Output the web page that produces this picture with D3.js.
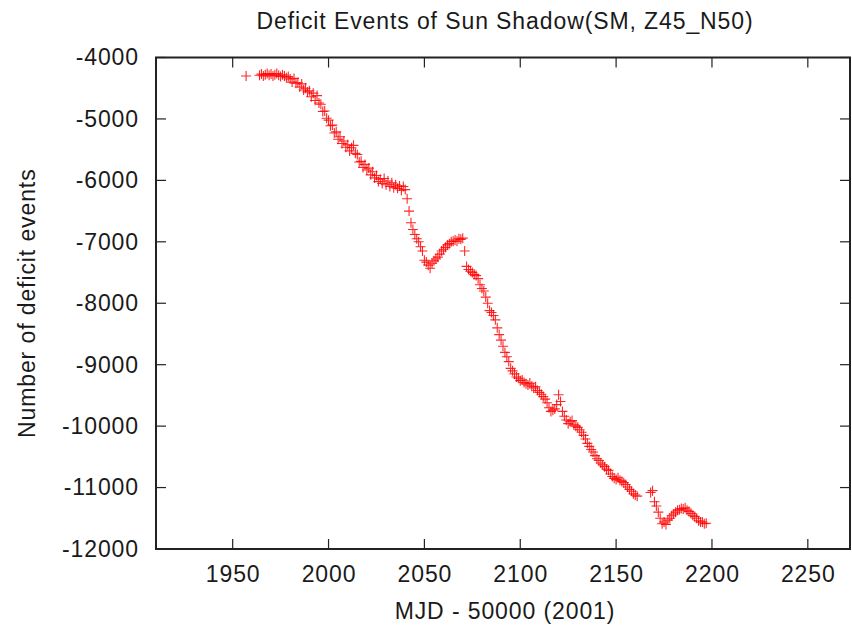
<!DOCTYPE html>
<html>
<head>
<meta charset="utf-8">
<script src="https://cdn.jsdelivr.net/npm/d3@7"></script>
<style>
  html, body { margin: 0; padding: 0; background: #fff; }
  svg { display: block; }
  text { font-family: "Liberation Sans", Arial, sans-serif; fill: #1a1a1a; }
</style>
</head>
<body>
<svg id="chart" width="852" height="628"></svg>
<script>
const title = "Deficit Events of Sun Shadow(SM, Z45_N50)";
const xLabel = "MJD - 50000 (2001)";
const yLabel = "Number of deficit events";
const xTicks = [1950, 2000, 2050, 2100, 2150, 2200, 2250];
const yTicks = [-4000, -5000, -6000, -7000, -8000, -9000, -10000, -11000, -12000];
const xDomain = [1910, 2272];
const yDomain = [-12000, -4000];

const days = [
  1957,
  1964, 1965, 1966, 1967, 1968, 1969, 1970, 1971, 1972, 1973, 1974, 1975, 1976, 1977, 1978, 1979,
  1980, 1981, 1982, 1983, 1984, 1985, 1986, 1987, 1988, 1989, 1990, 1991, 1992, 1993, 1994, 1995,
  1996, 1997, 1998, 1999, 2000, 2001, 2002, 2003, 2004, 2005, 2006, 2007, 2008, 2009, 2010, 2011,
  2012, 2013, 2014, 2015, 2016, 2017, 2018, 2019, 2020, 2021, 2022, 2023, 2024, 2025, 2026, 2027,
  2028, 2029, 2030, 2031, 2032, 2033, 2034, 2035, 2036, 2037, 2038, 2039, 2040, 2041, 2042, 2043,
  2044, 2045, 2046, 2047, 2048, 2049, 2050, 2051, 2052, 2053, 2054, 2055, 2056, 2057, 2058, 2059,
  2060, 2061, 2062, 2063, 2064, 2065, 2066, 2067, 2068, 2069, 2070, 2071, 2072, 2073, 2074, 2075,
  2076, 2077, 2078, 2079, 2080, 2081, 2082, 2083, 2084, 2085, 2086, 2087, 2088, 2089, 2090, 2091,
  2092, 2093, 2094, 2095, 2096, 2097, 2098, 2099, 2100, 2101, 2102, 2103, 2104, 2105, 2106, 2107,
  2108, 2109, 2110, 2111, 2112, 2113, 2114, 2115, 2116, 2117, 2118, 2119, 2120, 2121, 2122, 2123,
  2124, 2125, 2126, 2127, 2128, 2129, 2130, 2131, 2132, 2133, 2134, 2135, 2136, 2137, 2138, 2139,
  2140, 2141, 2142, 2143, 2144, 2145, 2146, 2147, 2148, 2149, 2150, 2151, 2152, 2153, 2154, 2155,
  2156, 2157, 2158, 2159, 2160, 2161,
  2168, 2169, 2170, 2171, 2172, 2173, 2174, 2175, 2176, 2177, 2178, 2179, 2180, 2181, 2182, 2183,
  2184, 2185, 2186, 2187, 2188, 2189, 2190, 2191, 2192, 2193, 2194, 2195, 2196, 2197
];
const deficits = [
  -4300,
  -4290, -4270, -4300, -4280, -4260, -4290, -4270, -4300, -4280, -4260, -4290, -4310, -4280, -4300, -4330, -4310,
  -4350, -4400, -4340, -4420, -4410, -4480, -4430, -4530, -4500, -4560, -4540, -4640, -4580, -4700, -4620, -4740,
  -4760, -4880, -4870, -4990, -5020, -5110, -5100, -5230, -5210, -5330, -5290, -5400, -5360, -5460, -5420, -5520,
  -5470, -5430, -5560, -5580, -5700, -5690, -5790, -5740, -5830, -5800, -5910, -5860, -5960, -5920, -6020, -5980,
  -6050, -5970, -6070, -6010, -6100, -6040, -6120, -6070, -6130, -6090, -6160, -6100, -6150, -6300, -6500, -6690,
  -6800, -6880, -6950, -7000, -7080, -7150, -7300, -7330, -7380, -7430, -7350, -7310, -7280, -7250, -7200, -7150,
  -7120, -7090, -7050, -7030, -7000, -6990, -6970, -6990, -6950, -6960, -6940, -7150, -7400, -7450, -7480, -7500,
  -7530, -7550, -7600, -7700, -7760, -7800, -7900, -8000, -8120, -8150, -8200, -8270, -8400, -8510, -8600, -8700,
  -8800, -8870, -8950, -9060, -9100, -9150, -9200, -9220, -9260, -9250, -9290, -9310, -9330, -9300, -9350, -9380,
  -9360, -9420, -9450, -9480, -9520, -9560, -9620, -9700, -9760, -9740, -9720, -9650, -9490, -9600, -9760, -9840,
  -9900, -9960, -9930, -9910, -9980, -10000, -10020, -10060, -10100, -10150, -10210, -10280, -10330, -10380, -10420, -10480,
  -10530, -10560, -10600, -10630, -10660, -10700, -10720, -10780, -10820, -10850, -10870, -10840, -10880, -10900, -10920, -10950,
  -10990, -11030, -11060, -11100, -11120, -11140,
  -11080, -11050, -11230, -11300, -11400, -11500, -11590, -11560, -11600, -11530, -11500, -11460, -11430, -11400, -11370, -11360,
  -11340, -11350, -11330, -11370, -11390, -11420, -11450, -11470, -11500, -11540, -11560, -11560, -11590, -11580
];

const svg = d3.select("#chart");
const mLeft = 156, mRight = 850, mTop = 57.5, mBottom = 549;
const fontSize = 23, spacing = "0.9px";

const x = d3.scaleLinear().domain(xDomain).range([mLeft, mRight]);
const y = d3.scaleLinear().domain(yDomain).range([mBottom, mTop]);

const axisColor = "#222";
const fmt = d => String(d);

const xAxis = svg.append("g")
  .attr("transform", `translate(0,${mBottom})`)
  .call(d3.axisBottom(x).tickValues(xTicks).tickSize(0).tickPadding(17).tickFormat(fmt));
xAxis.select(".domain").remove();
xAxis.selectAll("text").attr("font-size", fontSize).attr("fill", "#1a1a1a")
  .attr("letter-spacing", spacing)
  .style("font-family", "'Liberation Sans', Arial, sans-serif");

const yAxis = svg.append("g")
  .attr("transform", `translate(${mLeft},0)`)
  .call(d3.axisLeft(y).tickValues(yTicks).tickSize(0).tickPadding(17).tickFormat(fmt));
yAxis.select(".domain").remove();
yAxis.selectAll("text").attr("font-size", fontSize).attr("fill", "#1a1a1a")
  .attr("letter-spacing", spacing)
  .style("font-family", "'Liberation Sans', Arial, sans-serif");

const tickLen = 10;
const tg = svg.append("g").attr("stroke", axisColor).attr("stroke-width", 1.2);
xTicks.forEach(t => {
  tg.append("line").attr("x1", x(t)).attr("x2", x(t)).attr("y1", mBottom).attr("y2", mBottom - tickLen);
  tg.append("line").attr("x1", x(t)).attr("x2", x(t)).attr("y1", mTop).attr("y2", mTop + tickLen);
});
yTicks.forEach(t => {
  tg.append("line").attr("x1", mLeft).attr("x2", mLeft + tickLen).attr("y1", y(t)).attr("y2", y(t));
  tg.append("line").attr("x1", mRight).attr("x2", mRight - tickLen).attr("y1", y(t)).attr("y2", y(t));
});

svg.append("rect")
  .attr("x", mLeft).attr("y", mTop)
  .attr("width", mRight - mLeft).attr("height", mBottom - mTop)
  .attr("fill", "none").attr("stroke", axisColor).attr("stroke-width", 2);

const pts = days.map((d, i) => ({ d, v: deficits[i] }));
svg.append("g")
  .selectAll("path")
  .data(pts)
  .join("path")
  .attr("transform", p => `translate(${x(p.d)},${y(p.v)})`)
  .attr("d", "M-5,0H5M0,-5V5")
  .attr("stroke", "#ff0000")
  .attr("stroke-opacity", 0.85)
  .attr("stroke-width", 1.1)
  .attr("fill", "none");

svg.append("text")
  .attr("x", 505).attr("y", 29)
  .attr("text-anchor", "middle").attr("font-size", fontSize)
  .attr("letter-spacing", spacing)
  .text(title);

svg.append("text")
  .attr("x", 505).attr("y", 619)
  .attr("text-anchor", "middle").attr("font-size", fontSize)
  .attr("letter-spacing", spacing)
  .text(xLabel);

svg.append("text")
  .attr("transform", `translate(35,${(mTop + mBottom) / 2}) rotate(-90)`)
  .attr("text-anchor", "middle").attr("font-size", fontSize)
  .attr("letter-spacing", spacing)
  .text(yLabel);
</script>
</body>
</html>
